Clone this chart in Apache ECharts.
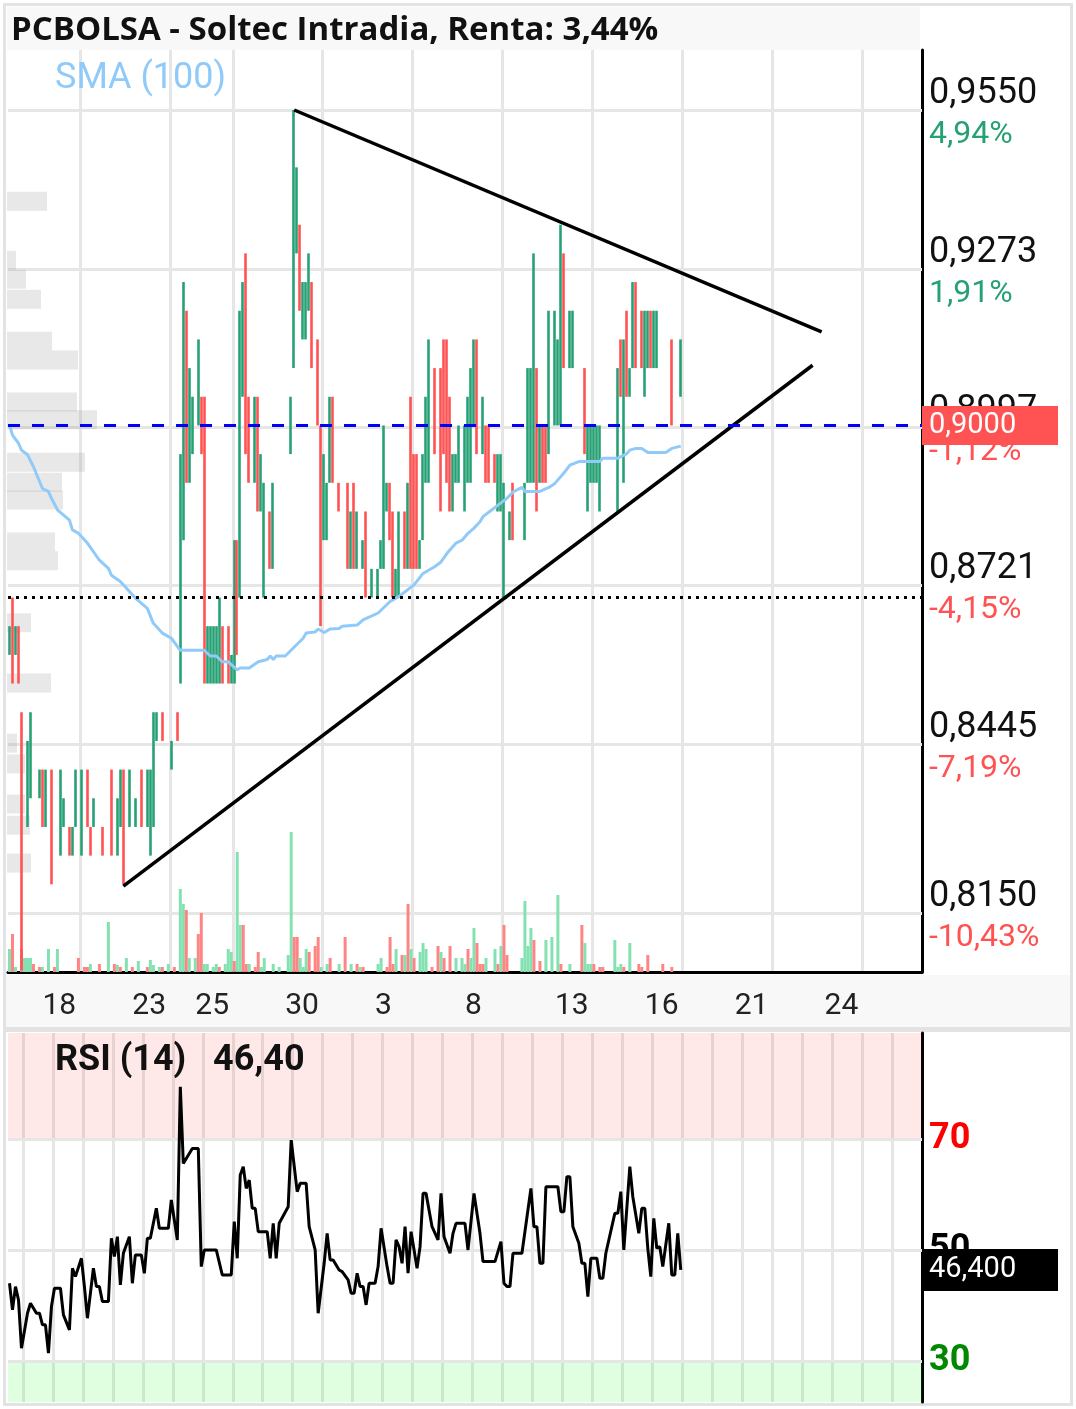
<!DOCTYPE html>
<html><head><meta charset="utf-8">
<script src="https://cdn.jsdelivr.net/npm/echarts@6/dist/echarts.min.js"></script>
<style>html,body{margin:0;padding:0;background:#fff}#c{width:1076px;height:1409px}</style>
</head><body><div id="c"></div>
<script>
const chartTitle = 'PCBOLSA - Soltec Intradia, Renta: 3,44%';
const smaTitle = 'SMA (100)';
const rsiTitle = 'RSI (14)';
const lastPrice = 0.9000;
const lastRsi = 46.40;
const refLevel = 0.8700;

const priceTicks = [0.9550, 0.9273, 0.8997, 0.8721, 0.8445, 0.8150];
const priceTickPct = ['4,94%', '1,91%', '-1,12%', '-4,15%', '-7,19%', '-10,43%'];
const rsiTicks = [70, 50, 30];

const SLOT_COUNT = 305;
const dayLineSlots = [24, 54, 75, 105, 135, 165, 195, 225, 255, 285];
const dayLabels = ['18', '23', '25', '30', '3', '8', '13', '16', '21', '24'];
const dayLabelSlots = [11, 41, 62, 92, 122, 152, 182, 212, 242, 272];

const candleSlot = [0,1,2,3,4,6,7,10,11,12,14,17,18,20,21,22,24,26,27,28,31,34,36,37,38,40,42,44,46,47,48,49,51,54,56,
57,58,59,60,61,63,64,65,66,67,68,69,70,71,73,74,75,76,77,78,79,80,82,83,84,85,87,88,
94,95,96,97,98,99,100,101,103,104,105,106,107,108,110,113,114,115,116,118,119,121,123,124,125,126,127,128,129,130,
132,133,134,135,136,137,138,139,140,142,144,145,146,147,148,149,150,152,153,154,155,156,158,159,160,162,163,164,165,167,168,
172,173,174,175,176,177,178,179,180,182,183,184,185,187,188,192,193,194,195,196,197,
203,204,205,206,207,208,209,211,212,213,214,215,216,221,224];
const candleOpen = [.860,.865,.860,.865,.850,.830,.835,.835,.840,.830,.835,.825,.830,.830,.825,.830,.825,.840,.830,.830,.830,.840,.825,.830,.840,.830,.830,.840,.830,.830,.835,.845,.850,.840,.850,
.880,.880,.920,.890,.895,.900,.905,.905,.855,.855,.855,.855,.860,.865,.865,.855,.855,.880,.870,.905,.930,.905,.890,.905,.885,.875,.885,.875,
.895,.910,.930,.935,.915,.915,.920,.925,.915,.900,.880,.880,.890,.905,.890,.890,.875,.890,.875,.875,.885,.870,.870,.875,.875,.885,.890,.885,.870,.870,
.885,.875,.905,.895,.895,.875,.880,.890,.890,.910,.910,.915,.915,.905,.885,.890,.890,.885,.890,.890,.900,.915,.895,.900,.900,.895,.885,.885,.875,.880,.890,
.880,.890,.890,.890,.910,.890,.900,.900,.895,.900,.900,.900,.930,.910,.910,.910,.890,.890,.890,.890,.890,
.885,.915,.890,.920,.905,.910,.925,.920,.910,.910,.920,.910,.910,.915,.905];
const candleClose = [.865,.860,.865,.855,.845,.845,.850,.840,.830,.840,.825,.840,.835,.825,.830,.840,.840,.830,.825,.835,.825,.825,.835,.840,.820,.840,.835,.830,.840,.840,.850,.850,.845,.845,.845,
.895,.895,.890,.910,.905,.915,.895,.860,.865,.865,.865,.865,.865,.855,.855,.860,.860,.860,.920,.925,.895,.890,.905,.885,.895,.890,.875,.890,
.905,.945,.945,.920,.925,.925,.930,.910,.900,.865,.895,.890,.905,.890,.885,.875,.885,.875,.885,.880,.870,.875,.875,.880,.890,.890,.880,.870,.875,.885,
.875,.890,.875,.875,.875,.880,.895,.905,.915,.895,.885,.895,.890,.885,.895,.895,.900,.900,.905,.910,.915,.895,.905,.890,.890,.890,.895,.895,.885,.885,.880,
.890,.910,.910,.910,.885,.900,.890,.890,.920,.920,.915,.925,.910,.920,.920,.895,.900,.900,.900,.900,.900,
.910,.905,.915,.905,.910,.925,.910,.910,.920,.920,.910,.920,.920,.900,.915];
const candleLow = [.860,.855,.860,.855,.805,.830,.835,.835,.830,.830,.820,.825,.830,.825,.825,.830,.825,.830,.825,.830,.825,.825,.825,.830,.820,.830,.830,.830,.830,.825,.830,.845,.845,.840,.845,
.855,.880,.890,.890,.895,.900,.895,.855,.855,.855,.855,.855,.855,.855,.855,.855,.855,.860,.870,.905,.895,.890,.890,.885,.885,.870,.875,.875,
.895,.910,.930,.920,.915,.915,.920,.910,.900,.865,.880,.880,.890,.890,.885,.875,.875,.875,.875,.875,.870,.870,.870,.875,.875,.885,.880,.870,.870,.870,
.875,.875,.875,.875,.875,.875,.880,.890,.890,.895,.885,.895,.890,.885,.885,.890,.890,.885,.890,.890,.900,.895,.895,.890,.890,.890,.885,.885,.870,.880,.880,
.880,.890,.890,.890,.885,.890,.890,.890,.895,.900,.900,.900,.910,.910,.910,.895,.885,.890,.890,.890,.885,
.885,.905,.890,.905,.905,.910,.910,.910,.905,.910,.910,.910,.910,.900,.905];
const candleHigh = [.865,.870,.865,.865,.850,.845,.850,.840,.840,.840,.840,.840,.835,.830,.830,.840,.840,.840,.830,.835,.830,.840,.835,.840,.840,.840,.835,.840,.840,.840,.850,.850,.850,.845,.850,
.895,.925,.920,.910,.905,.915,.905,.905,.865,.865,.865,.865,.870,.865,.865,.860,.880,.880,.920,.925,.930,.905,.905,.905,.895,.890,.885,.890,
.905,.955,.945,.935,.925,.925,.930,.925,.915,.900,.895,.890,.905,.905,.890,.890,.885,.890,.885,.880,.885,.875,.875,.880,.900,.890,.890,.885,.875,.885,
.885,.890,.905,.895,.895,.880,.895,.905,.915,.910,.910,.915,.915,.905,.895,.895,.900,.900,.905,.910,.915,.915,.905,.900,.900,.895,.895,.895,.890,.885,.890,
.890,.910,.910,.930,.910,.900,.900,.900,.920,.920,.915,.935,.930,.920,.920,.910,.900,.900,.900,.900,.900,
.910,.915,.915,.920,.910,.925,.925,.920,.920,.920,.920,.920,.920,.915,.915];

const volSlot = [0,1,2,4,5,6,7,8,10,11,13,15,16,23,25,26,27,30,33,35,36,37,39,41,43,46,47,48,50,51,53,55,
57,58,59,60,62,63,64,65,66,68,69,70,72,73,74,75,76,77,78,79,80,82,83,84,85,88,90,93,94,95,96,97,98,99,100,
102,103,104,106,107,110,112,114,116,117,118,123,124,126,127,128,129,131,132,133,134,135,137,138,139,141,143,144,145,147,
149,151,152,153,154,155,156,157,158,159,162,163,164,165,166,171,172,173,174,175,177,179,181,183,184,187,
191,192,193,194,195,197,198,202,203,204,205,207,210,211,213,218,221];
const volValue = [23,38,5,23,14,14,14,8,5,5,23,5,23,14,5,5,8,8,50,8,7,5,14,5,11,5,12,7,5,5,8,5,
83,68,62,14,14,38,59,8,8,5,8,5,8,23,20,11,120,47,47,8,8,5,20,5,14,8,5,17,140,35,35,14,5,23,20,
26,35,5,8,14,8,35,8,8,5,5,8,14,5,35,8,23,17,17,68,23,14,20,29,23,5,26,20,14,26,
14,14,8,23,14,44,29,8,8,14,23,8,26,47,17,14,71,26,44,32,11,32,35,77,8,8,
47,29,8,8,8,5,5,32,5,8,5,29,8,5,17,8,5];
const volUp = [1,0,1,0,1,1,1,0,0,1,1,0,1,0,0,0,1,0,1,0,1,0,1,0,1,0,1,1,1,0,1,0,
1,1,0,1,1,0,0,1,1,1,1,0,1,1,1,0,1,1,0,0,1,0,0,1,1,1,1,1,1,0,0,1,1,1,0,
0,0,1,1,0,1,0,1,0,1,0,1,1,0,0,0,1,0,1,0,1,0,1,1,1,0,0,1,0,0,
1,1,1,0,1,1,0,0,0,1,1,0,1,0,0,1,1,1,1,0,0,1,1,1,0,1,
0,1,1,1,0,0,0,1,1,1,0,1,0,0,0,0,0];

const profPrice = [0.9391,0.9288,0.9255,0.9220,0.9147,0.9114,0.9041,0.9010,0.8936,0.8901,0.8870,0.8797,0.8764,0.8656,0.8551,0.8446,0.8410,0.8340,0.8303,0.8237];
const profVol = [40,9,19,34,45,71,70,90,78,55,56,48,51,24,44,10,18,18,23,24];

const smaSlot = [0,1,3,4,6,8,11,13,14,16,20,21,23,26,30,33,34,37,42,46,48,51,54,57,65,67,69,71,73,76,77,80,83,86,87,88,89,92,
98,99,102,103,105,107,110,111,116,118,123,127,130,135,138,142,144,146,149,151,153,155,157,158,161,164,166,168,171,172,177,180,
182,185,187,190,197,198,203,206,207,209,211,213,219,221,224];
const smaValue = [.9001,.8983,.8969,.8957,.8949,.8928,.8890,.8885,.8873,.8853,.8835,.8818,.8812,.8795,.8765,.8751,.8739,.8728,.8699,.8681,.8655,.8638,.8629,.8608,.8608,.8598,.8598,.8588,.8588,.8574,.8577,.8577,.8588,.8592,.8598,.8592,.8598,.8598,
.8629,.8638,.8640,.8645,.8639,.8645,.8646,.8650,.8652,.8661,.8673,.8693,.8702,.8722,.8742,.8754,.8762,.8777,.8795,.8800,.8812,.8821,.8832,.8841,.8853,.8865,.8873,.8884,.8892,.8885,.8885,.8892,
.8899,.8917,.8931,.8937,.8937,.8943,.8943,.8951,.8957,.8960,.8960,.8953,.8953,.8960,.8964];

const rsiSlot = [0,1,2,3,4,6,7,9,10,11,12,13,14,15,17,18,20,21,22,24,25,26,28,29,30,31,33,34,35,36,37,38,40,41,42,44,45,46,47,49,50,53,54,55,56,
57,58,61,63,64,65,69,71,74,75,76,77,78,79,80,81,82,83,86,87,88,89,90,93,94,96,97,99,100,102,103,105,106,107,108,110,111,113,114,115,116,117,118,119,120,
122,123,124,126,127,128,129,130,131,132,133,134,136,137,138,139,141,143,144,145,147,148,149,152,153,155,157,158,162,164,165,166,167,168,171,173,174,175,176,177,178,
179,182,183,184,185,186,187,188,190,191,192,193,194,196,197,198,199,202,203,204,205,207,208,210,211,212,213,214,215,216,217,218,220,221,222,223,224];
const rsiValue = [44.0,39.2,43.4,41.0,32.3,38.6,40.4,38.6,38.6,36.5,36.5,31.4,39.8,43.1,43.1,38.3,35.6,46.7,45.2,48.5,43.4,37.7,46.7,43.4,43.4,40.7,40.7,52.1,48.8,52.4,43.7,49.4,52.4,44.0,49.1,49.1,45.8,52.1,52.1,57.5,53.9,53.9,59.0,55.4,51.8,
79.4,65.6,68.3,68.3,47.0,50.0,50.0,45.5,45.5,55.1,48.5,63.5,65.0,61.1,62.6,57.5,57.5,53.3,53.3,48.5,54.8,48.5,54.8,57.8,69.8,60.5,62.0,62.0,54.2,50.0,38.6,47.6,53.0,48.2,48.2,46.4,46.1,44.6,42.2,42.2,45.8,43.4,43.4,40.1,44.0,
44.0,47.0,53.9,47.0,44.0,44.0,51.8,50.6,47.6,54.2,45.8,53.3,46.7,50.6,60.2,60.2,54.2,51.8,60.2,52.4,49.4,53.0,54.8,54.8,50.0,60.2,53.0,47.9,47.9,51.5,44.0,43.4,43.4,49.4,49.4,57.2,61.1,54.2,54.2,47.6,47.6,
61.4,61.4,61.4,56.9,56.9,63.2,63.2,54.2,51.2,47.6,47.6,41.6,48.5,48.5,44.9,44.9,49.4,56.6,56.6,60.5,50.0,65.0,59.6,53.0,57.5,57.5,50.3,45.2,55.7,50.3,50.6,47.0,54.8,45.5,45.5,53.0,46.4];

const trendUpper = {slots: [95, 271], prices: [0.9550, 0.9163]};
const trendLower = {slots: [38, 268], prices: [0.8197, 0.9105]};

// ---------- build ----------
const UP = '#26a174', DOWN = '#ff5252';
const VOL_UP = '#84e2b2', VOL_DOWN = '#ff8585';
const priceMin = 0.80471, priceMax = 0.96546;
const rsiMin = 22.6, rsiMax = 89.1;
const fmt = (v, d) => v.toFixed(d).replace('.', ',');

const slots = Array.from({length: SLOT_COUNT}, (_, i) => String(i));
const candleData = slots.map(() => '-');
candleSlot.forEach((s, i) => { candleData[s] = [candleOpen[i], candleClose[i], candleLow[i], candleHigh[i]]; });
const volData = slots.map(() => '-');
volSlot.forEach((s, i) => { volData[s] = {value: volValue[i], itemStyle: {color: volUp[i] ? VOL_UP : VOL_DOWN}}; });
const dayLineSet = new Set(dayLineSlots);
const labelMap = {};
dayLabelSlots.forEach((s, i) => { labelMap[s] = dayLabels[i]; });
const rsiLineSet = (i) => i % 10 === 5;

const chart = echarts.init(document.getElementById('c'), null, {renderer: 'canvas'});
const GRID_LINE = '#e6e6e6';

const option = {
  animation: false,
  backgroundColor: '#ffffff',
  graphic: [
    {type: 'rect', z: -10, shape: {x: 7, y: 7, width: 913, height: 43}, style: {fill: '#f8f8f8'}},
    {type: 'rect', z: -10, shape: {x: 6, y: 975, width: 1064, height: 52}, style: {fill: '#f8f8f8'}},
    {type: 'rect', z: -10, shape: {x: 5, y: 1027, width: 1066, height: 5}, style: {fill: '#e3e3e3'}},
    {type: 'rect', z: -10, shape: {x: 4.5, y: 4.5, width: 1067, height: 1400}, style: {fill: 'none', stroke: '#e3e3e3', lineWidth: 3}}
  ],
  title: [
    {text: chartTitle, left: 11, top: 14, padding: 0,
     textStyle: {fontFamily: 'Open Sans', fontWeight: 'bold', fontSize: 33, color: '#111'}},
    {text: smaTitle, left: 55, top: 61, padding: 0,
     textStyle: {fontFamily: 'Roboto', fontWeight: 'normal', fontSize: 36, color: '#90caf9'}},
    {text: rsiTitle + '   ' + fmt(lastRsi, 2), left: 55, top: 1043, padding: 0,
     textStyle: {fontFamily: 'Roboto', fontWeight: 'bold', fontSize: 36, color: '#111'}}
  ],
  grid: [
    {left: 8, top: 50, width: 914, height: 922},
    {left: 8, top: 1033, width: 914, height: 369}
  ],
  xAxis: [
    {type: 'category', gridIndex: 0, data: slots, boundaryGap: true,
     axisLine: {show: true, onZero: false, lineStyle: {color: '#000', width: 3}},
     axisTick: {show: false},
     axisLabel: {show: true, interval: (i) => labelMap[i] !== undefined, formatter: (v, i) => labelMap[i] || '',
                 align: 'left', color: '#222', fontSize: 30, fontFamily: 'Roboto', margin: 19},
     splitLine: {show: true, interval: (i) => dayLineSet.has(i), lineStyle: {color: GRID_LINE, width: 3}}},
    {type: 'category', gridIndex: 1, data: slots, boundaryGap: true,
     axisLine: {show: false}, axisTick: {show: false}, axisLabel: {show: false},
     splitLine: {show: true, interval: rsiLineSet, lineStyle: {color: GRID_LINE, width: 3}}},
    {type: 'value', gridIndex: 0, min: 0, max: 914, show: false, position: 'top'}
  ],
  yAxis: [
    {type: 'value', gridIndex: 0, position: 'right', min: priceMin, max: priceMax,
     axisLine: {show: true, onZero: false, lineStyle: {color: '#000', width: 3}},
     axisTick: {show: false}, axisLabel: {show: false}, splitLine: {show: false}},
    {type: 'value', gridIndex: 0, min: 0, max: 922, show: false},
    {type: 'value', gridIndex: 1, position: 'right', min: rsiMin, max: rsiMax,
     axisLine: {show: true, onZero: false, lineStyle: {color: '#000', width: 3}},
     axisTick: {show: false}, axisLabel: {show: false}, splitLine: {show: false}}
  ],
  series: [
    {type: 'line', name: 'ticks', xAxisIndex: 0, yAxisIndex: 0, data: [], z: 1, silent: true,
     markLine: {z: 1, silent: true, precision: 6, symbol: ['none', 'none'], animation: false,
       data: priceTicks.map((v, i) => ({
         yAxis: v,
         lineStyle: {color: GRID_LINE, width: 3, type: 'solid'},
         label: {show: true, position: 'end', distance: 7, padding: [9, 0, 0, 0],
           formatter: '{p|' + fmt(v, 4) + '}\n{c|' + priceTickPct[i] + '}',
           rich: {
             p: {fontFamily: 'Roboto', fontSize: 36, color: '#111', lineHeight: 41},
             c: {fontFamily: 'Roboto', fontSize: 32, color: priceTickPct[i].charAt(0) === '-' ? '#ff5252' : '#26a174', lineHeight: 41}
           }}
       }))}},
    {type: 'custom', name: 'profile', xAxisIndex: 2, yAxisIndex: 0, z: 1, silent: true, clip: false,
     data: profPrice.map((p, i) => [profVol[i], p]),
     renderItem: (params, api) => {
       const v = api.value(0), p = api.value(1), half = 0.00165;
       const a = api.coord([0, p + half]);
       const b = api.coord([v, p - half]);
       return {type: 'rect', shape: {x: a[0] - 1, y: a[1], width: b[0] - a[0], height: b[1] - a[1]},
               style: {fill: 'rgba(150,150,150,0.22)'}};
     }},
    {type: 'bar', name: 'volume', xAxisIndex: 0, yAxisIndex: 1, z: 2, barWidth: 3, data: volData, silent: true},
    {type: 'candlestick', name: 'price', xAxisIndex: 0, yAxisIndex: 0, z: 3, barWidth: 0.6, clip: true, data: candleData,
     itemStyle: {color: UP, color0: DOWN, borderColor: UP, borderColor0: DOWN, borderWidth: 2.6}},
    {type: 'line', name: 'SMA', xAxisIndex: 0, yAxisIndex: 0, z: 4, symbol: 'none', showSymbol: false,
     data: smaSlot.map((s, i) => [s, smaValue[i]]), lineStyle: {color: '#90caf9', width: 3}},
    {type: 'line', name: 'drawings', xAxisIndex: 0, yAxisIndex: 0, data: [], z: 6, silent: true,
     markLine: {z: 6, silent: true, precision: 6, symbol: ['none', 'none'], animation: false, label: {show: false},
       data: [
         [{coord: [trendUpper.slots[0], trendUpper.prices[0]], lineStyle: {color: '#000', width: 3.5, type: 'solid'}},
          {coord: [trendUpper.slots[1], trendUpper.prices[1]]}],
         [{coord: [trendLower.slots[0], trendLower.prices[0]], lineStyle: {color: '#000', width: 3.5, type: 'solid'}},
          {coord: [trendLower.slots[1], trendLower.prices[1]]}],
         {yAxis: refLevel, lineStyle: {color: '#000', width: 3, type: [3, 5]}, label: {show: false}},
         {yAxis: lastPrice, lineStyle: {color: '#0000ff', width: 3, type: [12, 12]},
          label: {show: true, position: 'end', distance: 0, formatter: fmt(lastPrice, 4),
                  backgroundColor: '#ff5252', color: '#fff', fontFamily: 'Roboto', fontSize: 29,
                  lineHeight: 33, padding: [4, 6, 2, 7], width: 123}}
       ]}},
    {type: 'line', name: 'RSI', xAxisIndex: 1, yAxisIndex: 2, z: 4, symbol: 'none', showSymbol: false,
     data: rsiSlot.map((s, i) => [s, rsiValue[i]]), lineStyle: {color: '#000', width: 3},
     markArea: {silent: true, data: [
       [{yAxis: 70, itemStyle: {color: 'rgba(255,0,0,0.09)'}}, {yAxis: rsiMax}],
       [{yAxis: rsiMin, itemStyle: {color: 'rgba(0,255,0,0.12)'}}, {yAxis: 30}]
     ]}},
    {type: 'line', name: 'rsiTicks', xAxisIndex: 1, yAxisIndex: 2, data: [], z: 1, silent: true,
     markLine: {z: 1, silent: true, precision: 4, symbol: ['none', 'none'], animation: false,
       data: rsiTicks.map((v) => ({
         yAxis: v, lineStyle: {color: GRID_LINE, width: 3, type: 'solid'},
         label: {show: true, position: 'end', distance: 7, formatter: String(v), padding: [5, 0, 0, 0],
                 fontFamily: 'Roboto', fontWeight: 'bold', fontSize: 36,
                 color: v === 70 ? '#ff0000' : (v === 30 ? '#008800' : '#000')}
       }))}},
    {type: 'line', name: 'rsiTag', xAxisIndex: 1, yAxisIndex: 2, data: [], z: 10, silent: true,
     markLine: {z: 10, silent: true, precision: 4, symbol: ['none', 'none'], animation: false,
       data: [{yAxis: lastRsi, lineStyle: {color: 'rgba(0,0,0,0)', width: 1, type: 'solid'},
               label: {show: true, position: 'end', distance: 0, formatter: fmt(lastRsi, 3),
                       backgroundColor: '#000', color: '#fff', fontFamily: 'Roboto', fontSize: 29,
                       lineHeight: 34, padding: [5, 6, 3, 7], width: 123}}]}}
  ]
};
chart.setOption(option);
</script>
</body></html>
